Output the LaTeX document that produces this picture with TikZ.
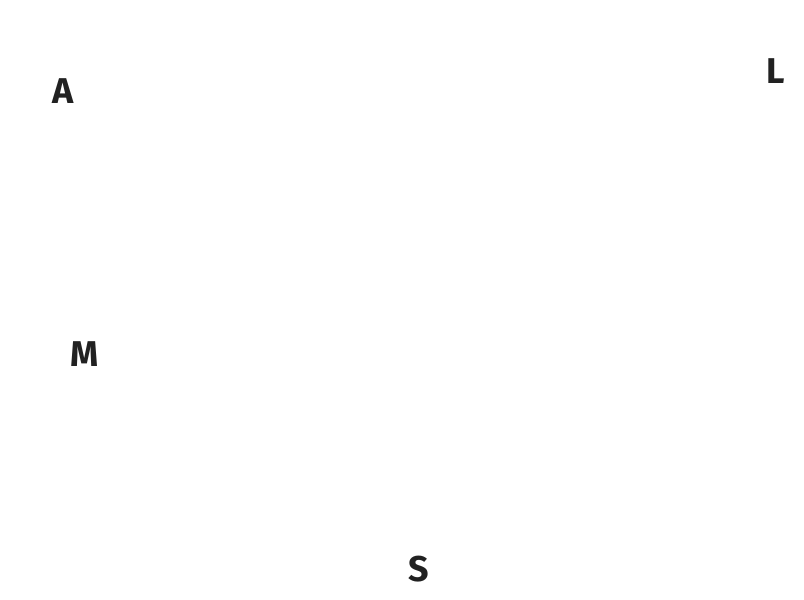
\documentclass[tikz,border=0pt]{standalone}
\usepackage{fontspec}
\setmainfont{Fira Sans}
\begin{document}
\begin{tikzpicture}
	\tikzstyle{letter}=[inner sep=0pt,text=black!87,font=\fontsize{25.5}{30}\selectfont\bfseries]
	\useasboundingbox (0,0) rectangle (20.1,14.975);
	\draw 
	node[letter](A)at(1.575,12.71){A}
	node[letter](L)at(19.4,13.19){L}
	node[letter](M)at(2.125,6.125){M}
	node[letter](S)at(10.475,0.75){S};
\end{tikzpicture}
\end{document}
